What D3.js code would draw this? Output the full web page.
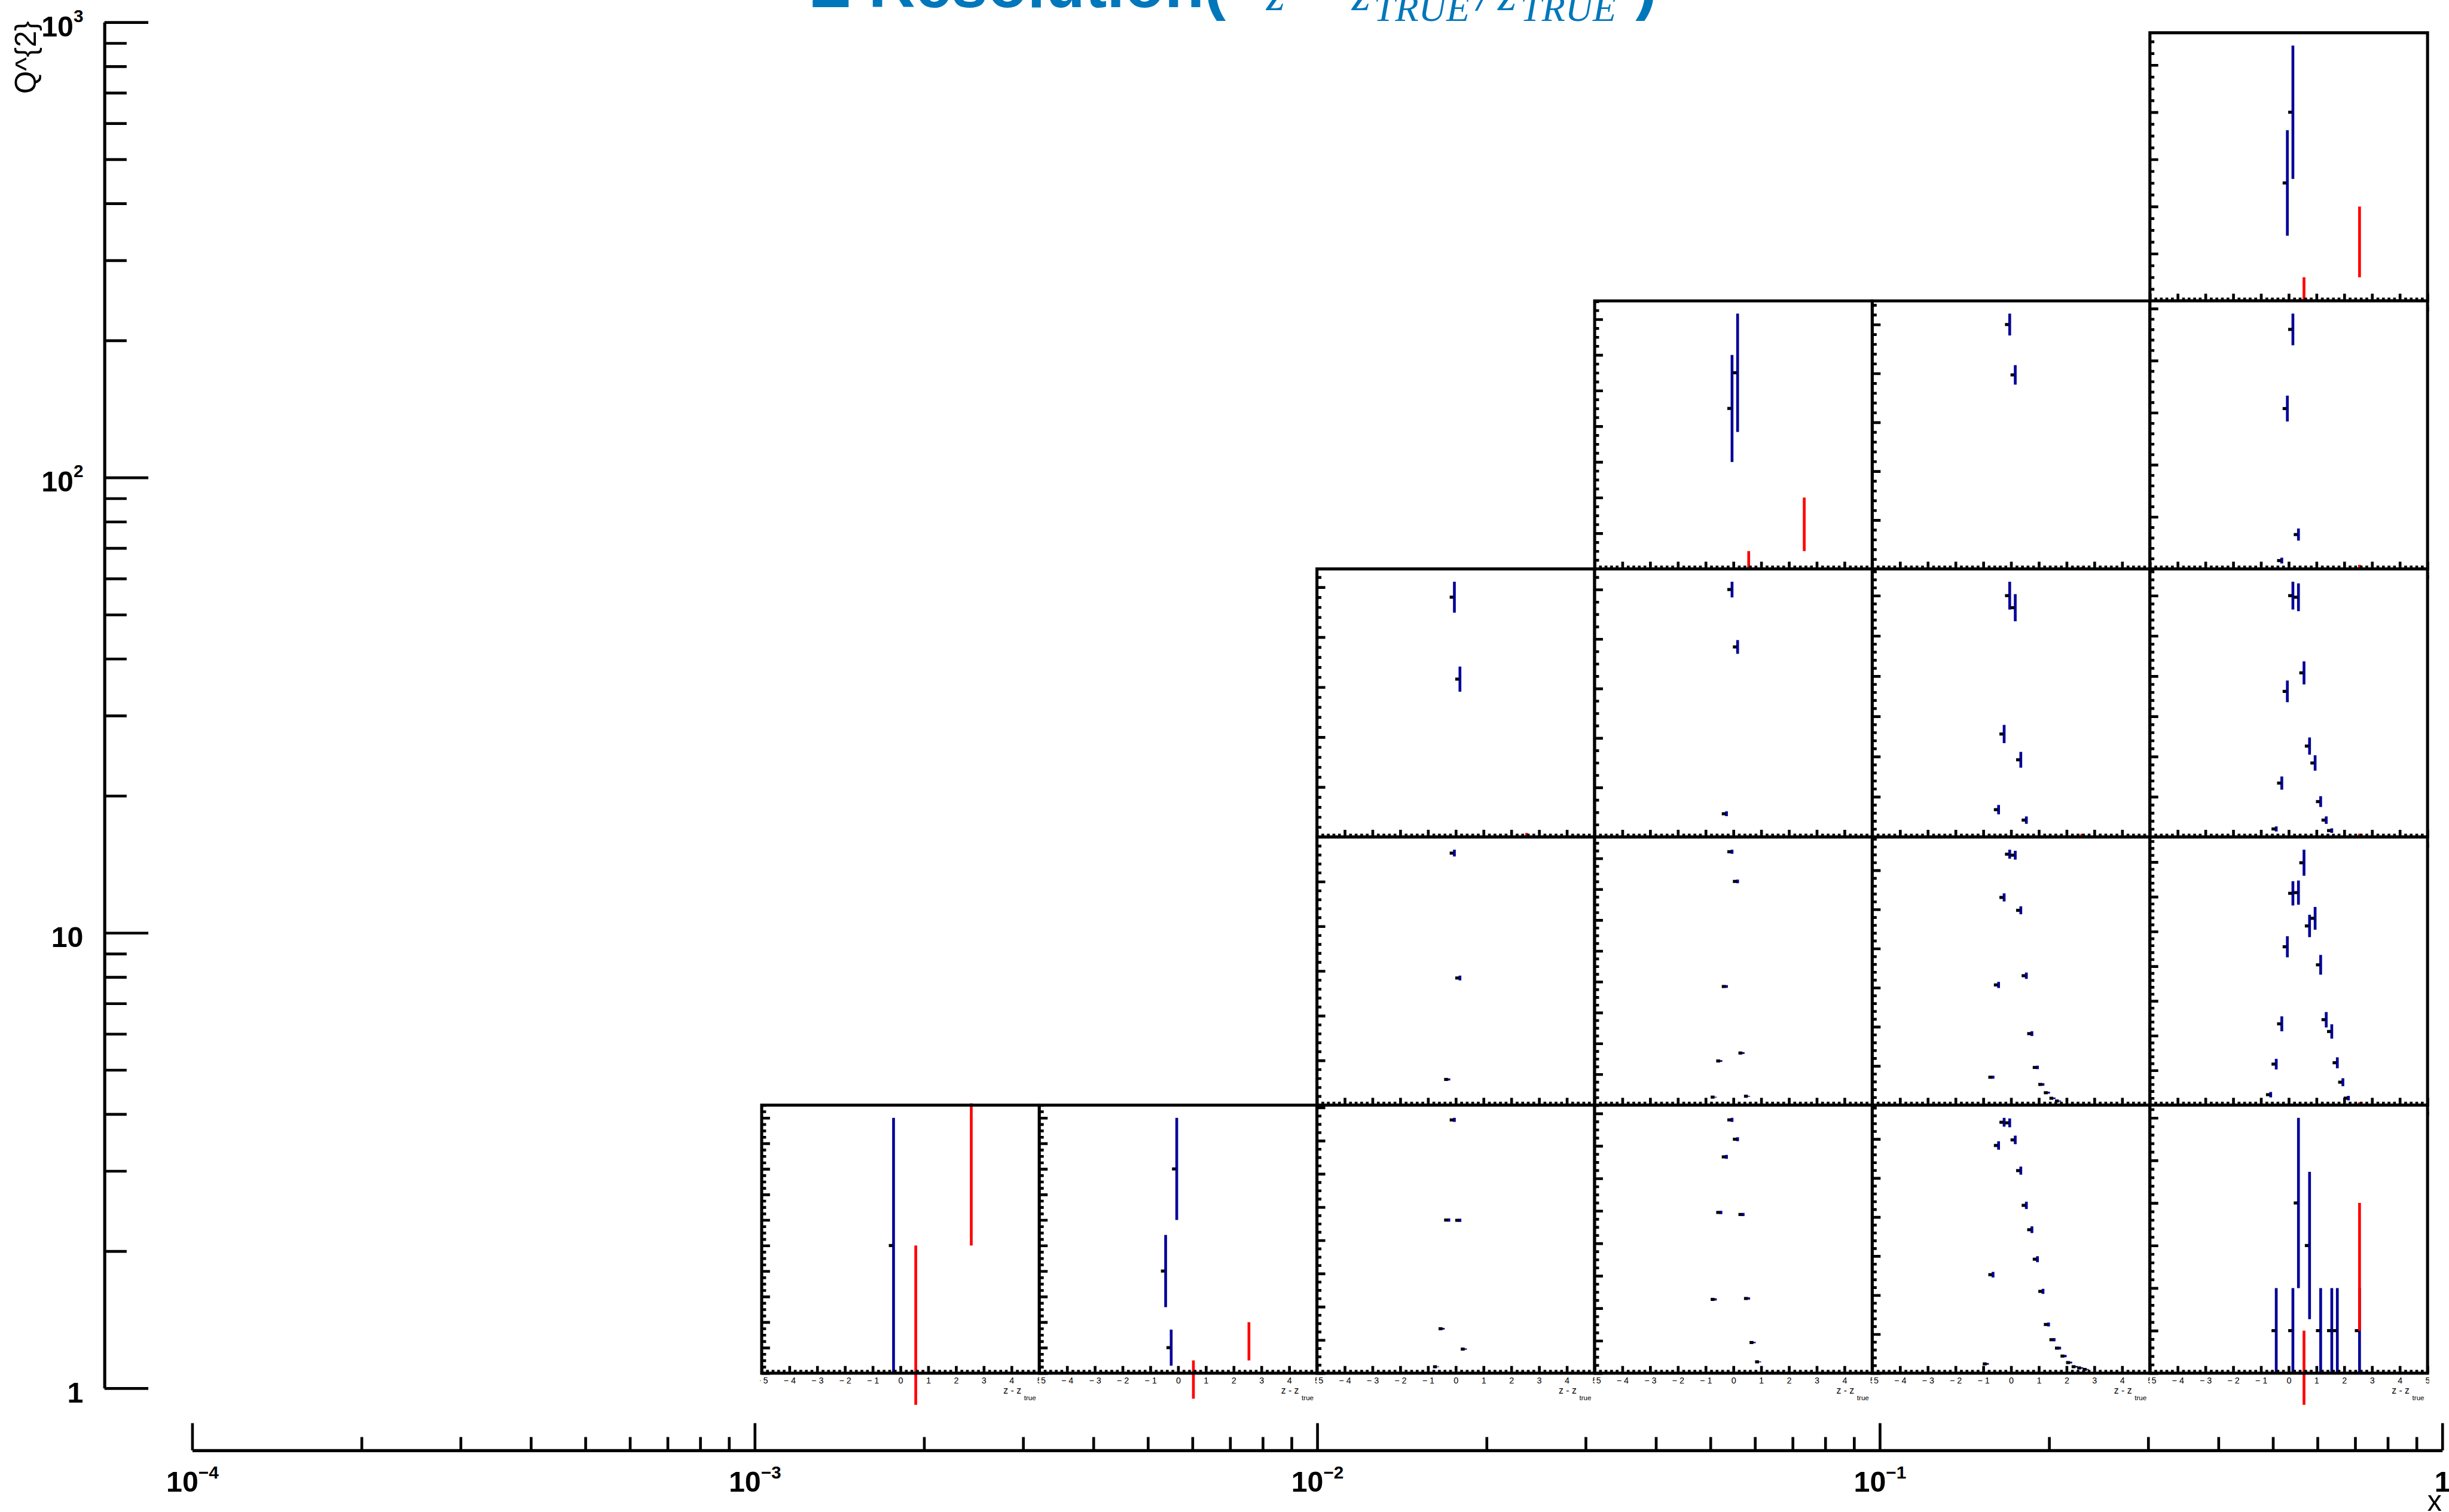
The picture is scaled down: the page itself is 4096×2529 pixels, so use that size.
<!DOCTYPE html>
<html>
<head>
<meta charset="utf-8">
<script src="https://cdn.jsdelivr.net/npm/d3@7"></script>
<style>
  html, body { margin: 0; padding: 0; background: #fff; }
  svg { display: block; }
</style>
</head>
<body>
<script>
// ---------------------------------------------------------------
// Binning of the (x, Q^2) plane: one resolution pad per cell
// ---------------------------------------------------------------
const xBinEdges  = [0.001, 0.0031623, 0.01, 0.031623, 0.1, 0.31623, 1];
const q2BinEdges = [1, 4, 16, 64, 256, 1024];

// Outer axes
const xAxisTicks  = [1e-4, 1e-3, 1e-2, 1e-1, 1];
const xAxisLabels = [["10", "-4"], ["10", "-3"], ["10", "-2"], ["10", "-1"], ["1", ""]];
const yAxisTicks  = [1, 10, 100, 1000];
const yAxisLabels = [["1", ""], ["10", ""], ["10", "2"], ["10", "3"]];

// Pad axis (z - z_true)
const zTicks = [-5, -4, -3, -2, -1, 0, 1, 2, 3, 4, 5];

// Reference histogram (red): bin centres, contents, errors
const redZ   = [0.55, 2.55];
const redVal = [-0.5, 2.5];
const redErr = [1.5, 1.5];

// Blue histograms: bin centres (z - z_true) and entries, per (x bin, Q2 bin)
const z_x0_q0 = [-0.25];
const n_x0_q0 = [1];

const z_x1_q0 = [-0.45, -0.25, -0.05];
const n_x1_q0 = [8, 2, 16];

const z_x2_q0 = [-0.65, -0.45, -0.25, -0.05, 0.15, 0.35];
const n_x2_q0 = [387, 2676, 9220, 15250, 9205, 1451];

const z_x3_q0 = [-0.65, -0.45, -0.25, -0.05, 0.15, 0.35, 0.55, 0.75, 0.95];
const n_x3_q0 = [4545, 9903, 13326, 15604, 14413, 9777, 4602, 1889, 698];

const z_x4_q0 = [-0.85, -0.65, -0.45, -0.25, -0.05, 0.15, 0.35, 0.55, 0.75, 0.95,
                 1.15, 1.35, 1.55, 1.75, 1.95, 2.15, 2.35, 2.55, 2.75];
const n_x4_q0 = [119, 1262, 2917, 3214, 3207, 2988, 2595, 2150, 1838, 1460,
                 1048, 624, 429, 321, 219, 136, 83, 67, 48];

const z_x5_q0 = [-0.45, 0.15, 0.35, 0.75, 1.15, 1.55, 1.75, 2.55];
const n_x5_q0 = [1, 1, 4, 3, 1, 1, 1, 1];

const z_x2_q1 = [-0.25, -0.05, 0.15];
const n_x2_q1 = [574, 5636, 2843];

const z_x3_q1 = [-0.65, -0.45, -0.25, -0.05, 0.15, 0.35, 0.55];
const n_x3_q1 = [517, 2861, 7692, 16430, 14507, 3377, 577];

const z_x4_q1 = [-0.65, -0.45, -0.25, -0.05, 0.15, 0.35, 0.55, 0.75, 0.95, 1.15, 1.35, 1.55, 1.75];
const n_x4_q1 = [356, 1535, 2653, 3205, 3193, 2488, 1653, 913, 481, 264, 158, 87, 52];

const z_x5_q1 = [-0.65, -0.45, -0.25, -0.05, 0.15, 0.35, 0.55, 0.75, 0.95, 1.15, 1.35, 1.55, 1.75, 1.95, 2.15];
const n_x5_q1 = [15, 59, 117, 228, 305, 306, 349, 258, 269, 202, 123, 106, 61, 33, 10];

const z_x2_q2 = [-0.05, 0.15];
const n_x2_q2 = [240, 158];

const z_x3_q2 = [-0.25, -0.05, 0.15];
const n_x3_q2 = [94, 1000, 768];

const z_x4_q2 = [-0.45, -0.25, -0.05, 0.15, 0.35, 0.55];
const n_x4_q2 = [34, 128, 300, 285, 96, 21];

const z_x5_q2 = [-0.45, -0.25, -0.05, 0.15, 0.35, 0.55, 0.75, 0.95, 1.15, 1.35, 1.55];
const n_x5_q2 = [10, 67, 181, 300, 298, 204, 113, 92, 44, 21, 8];

const z_x3_q3 = [-0.05, 0.15];
const n_x3_q3 = [9, 11];

const z_x4_q3 = [-0.05, 0.15];
const n_x4_q3 = [500, 397];

const z_x5_q3 = [-0.25, -0.05, 0.15, 0.35];
const n_x5_q3 = [8, 154, 230, 33];

const z_x5_q4 = [-0.05, 0.15];
const n_x5_q4 = [5, 8];

// Pads, listed top row first so that each lower pad covers the label margin of the one above
const pads = [
  {ix: 5, iq: 4, z: z_x5_q4, n: n_x5_q4},
  {ix: 3, iq: 3, z: z_x3_q3, n: n_x3_q3},
  {ix: 4, iq: 3, z: z_x4_q3, n: n_x4_q3},
  {ix: 5, iq: 3, z: z_x5_q3, n: n_x5_q3},
  {ix: 2, iq: 2, z: z_x2_q2, n: n_x2_q2},
  {ix: 3, iq: 2, z: z_x3_q2, n: n_x3_q2},
  {ix: 4, iq: 2, z: z_x4_q2, n: n_x4_q2},
  {ix: 5, iq: 2, z: z_x5_q2, n: n_x5_q2},
  {ix: 2, iq: 1, z: z_x2_q1, n: n_x2_q1},
  {ix: 3, iq: 1, z: z_x3_q1, n: n_x3_q1},
  {ix: 4, iq: 1, z: z_x4_q1, n: n_x4_q1},
  {ix: 5, iq: 1, z: z_x5_q1, n: n_x5_q1},
  {ix: 0, iq: 0, z: z_x0_q0, n: n_x0_q0},
  {ix: 1, iq: 0, z: z_x1_q0, n: n_x1_q0},
  {ix: 2, iq: 0, z: z_x2_q0, n: n_x2_q0},
  {ix: 3, iq: 0, z: z_x3_q0, n: n_x3_q0},
  {ix: 4, iq: 0, z: z_x4_q0, n: n_x4_q0},
  {ix: 5, iq: 0, z: z_x5_q0, n: n_x5_q0}
];

// ---------------------------------------------------------------
// Canvas
// ---------------------------------------------------------------
const W = 4410, H = 2723;
const SANS = "'Liberation Sans', Arial, Helvetica, sans-serif";
const SERIF = "'Liberation Serif', 'Times New Roman', serif";
const BLUE = "#000099", RED = "#ff0000";

const svg = d3.select("body").append("svg")
  .attr("width", 4096).attr("height", 2529)
  .attr("viewBox", `0 0 ${W} ${H}`);
svg.append("rect").attr("width", W).attr("height", H).attr("fill", "#fff");
const defs = svg.append("defs");

// Scales of the outer frame and of the pad grid
const xMain = d3.scaleLog().domain([1e-4, 1]).range([346, 4398]);
const yMain = d3.scaleLog().domain([1, 1000]).range([2500, 40]);
const xPad  = d3.scaleLog().domain([1e-3, 1]).range([1371.5, 4371.5]);
const yPad  = d3.scaleLog().domain([1, 1024]).range([2473, 59]);

// Axis division like the classic 510 optimisation
function majorStep(ymax) {
  const aw = ymax / 10;
  const e = Math.floor(Math.log10(aw));
  const ten = Math.pow(10, e);
  const s = aw / ten;
  const m = s <= 1.0001 ? 1 : s <= 2.2 ? 2 : s <= 5 ? 5 : 10;
  return m * ten;
}
function leadDigit(step) {
  return Math.round(step / Math.pow(10, Math.floor(Math.log10(step) + 1e-9)));
}

const zFmt = d => d < 0 ? "\u2212 " + (-d) : String(d);
const PAD_MARGIN = 57;
const LW = 5.5;

pads.forEach((p, i) => {
  const x0 = xPad(xBinEdges[p.ix]), x1 = xPad(xBinEdges[p.ix + 1]);
  const yT = yPad(q2BinEdges[p.iq + 1]), yB = yPad(q2BinEdges[p.iq]);

  const cid = "padclip" + i;
  defs.append("clipPath").attr("id", cid).append("rect")
    .attr("x", x0 - 3).attr("y", yT - 3)
    .attr("width", x1 - x0 + 6).attr("height", yB - yT + PAD_MARGIN + 3);

  const g = svg.append("g").attr("clip-path", `url(#${cid})`);
  g.append("rect").attr("x", x0).attr("y", yT)
    .attr("width", x1 - x0).attr("height", yB - yT + PAD_MARGIN)
    .attr("fill", "#fff");

  const zs = d3.scaleLinear().domain([-5, 5]).range([x0, x1]);
  const ymax = 1.05 * d3.max(p.n, v => v + Math.sqrt(v));
  const ys = d3.scaleLinear().domain([0, ymax]).range([yB, yT]);

  const pts = p.z.map((z, k) => ({z: z, n: p.n[k], e: Math.sqrt(p.n[k])}));

  // blue error bars
  g.append("g").selectAll("line").data(pts).join("line")
    .attr("x1", d => zs(d.z)).attr("x2", d => zs(d.z))
    .attr("y1", d => ys(d.n - d.e)).attr("y2", d => ys(d.n + d.e))
    .attr("stroke", BLUE).attr("stroke-width", 5);

  // bin markers
  g.append("g").selectAll("rect").data(pts).join("rect")
    .attr("x", d => zs(d.z - 0.17)).attr("width", d => zs(d.z - 0.03) - zs(d.z - 0.17))
    .attr("y", d => ys(d.n) - 2.75).attr("height", 5.5)
    .attr("fill", "#000");

  // red reference histogram
  const reds = redZ.map((z, k) => ({z: z, v: redVal[k], e: redErr[k]}));
  g.append("g").selectAll("line").data(reds).join("line")
    .attr("x1", d => zs(d.z)).attr("x2", d => zs(d.z))
    .attr("y1", d => ys(d.v - d.e)).attr("y2", d => ys(d.v + d.e))
    .attr("stroke", RED).attr("stroke-width", 5);

  // frame
  g.append("rect").attr("x", x0).attr("y", yT)
    .attr("width", x1 - x0).attr("height", yB - yT)
    .attr("fill", "none").attr("stroke", "#000").attr("stroke-width", LW);

  // x axis of the pad
  const zMinor = d3.range(-50, 51).map(k => k / 10).filter(v => Math.abs(v * 5 - Math.round(v * 5)) < 1e-6 && Math.abs(v - Math.round(v)) > 1e-6);
  const axZ = g.append("g").attr("transform", `translate(0,${yB})`)
    .call(d3.axisBottom(zs).tickValues(zTicks).tickFormat(zFmt)
      .tickSizeInner(-13).tickSizeOuter(0).tickPadding(8));
  const axZm = g.append("g").attr("transform", `translate(0,${yB})`)
    .call(d3.axisBottom(zs).tickValues(zMinor).tickFormat("")
      .tickSizeInner(-6).tickSizeOuter(0));
  [axZ, axZm].forEach(a => {
    a.select(".domain").remove();
    a.selectAll("line").attr("stroke", "#000").attr("stroke-width", 5);
  });
  axZ.selectAll("text").attr("font-family", SANS).attr("font-size", 15.5).attr("fill", "#000");

  const tt = g.append("text").attr("x", x1 - 6).attr("y", yB + 37)
    .attr("text-anchor", "end").attr("font-family", SANS).attr("font-size", 17);
  tt.append("tspan").text("z - z");
  tt.append("tspan").attr("dx", 5).attr("dy", 12).attr("font-size", 12.5).text("true");

  // y axis of the pad
  const step = majorStep(ymax);
  const nsub = leadDigit(step) === 2 ? 4 : 5;
  const yMajor = d3.range(0, Math.floor(ymax / step + 1e-9) + 1).map(k => k * step);
  const yMinorT = d3.range(0, Math.floor(ymax / (step / nsub) + 1e-9) + 1)
    .filter(k => k % nsub !== 0).map(k => k * step / nsub);
  const axY = g.append("g").attr("transform", `translate(${x0},0)`)
    .call(d3.axisLeft(ys).tickValues(yMajor).tickFormat("").tickSizeInner(-15).tickSizeOuter(0));
  const axYm = g.append("g").attr("transform", `translate(${x0},0)`)
    .call(d3.axisLeft(ys).tickValues(yMinorT).tickFormat("").tickSizeInner(-8).tickSizeOuter(0));
  [axY, axYm].forEach(a => {
    a.select(".domain").remove();
    a.selectAll("line").attr("stroke", "#000").attr("stroke-width", 5);
  });
});

// ---------------------------------------------------------------
// Outer axes
// ---------------------------------------------------------------
function supLabels(axisG, labels, supSize, supRise) {
  axisG.selectAll(".tick text").each(function (d, k) {
    const t = d3.select(this);
    t.text(null);
    const lab = labels[k];
    t.append("tspan").text(lab[0]);
    if (lab[1]) t.append("tspan").attr("dy", -supRise).attr("font-size", supSize).text(lab[1].replace("-", "\u2212"));
  });
}

// vertical axis
const yMinorVals = [];
[1, 10, 100].forEach(dec => [2, 3, 4, 5, 6, 7, 8, 9].forEach(k => yMinorVals.push(k * dec)));
const gy = svg.append("g").attr("transform", "translate(188,0)")
  .call(d3.axisLeft(yMain).tickValues(yAxisTicks).tickFormat("")
    .tickSizeInner(-79).tickSizeOuter(0).tickPadding(38));
const gym = svg.append("g").attr("transform", "translate(188,0)")
  .call(d3.axisLeft(yMain).tickValues(yMinorVals).tickFormat("")
    .tickSizeInner(-40).tickSizeOuter(0));
gym.select(".domain").remove();
[gy, gym].forEach(a => {
  a.selectAll("line").attr("stroke", "#000").attr("stroke-width", 5);
});
gy.select(".domain").attr("stroke", "#000").attr("stroke-width", 5.5);
gy.selectAll(".tick text")
  .attr("font-family", SANS).attr("font-weight", "bold").attr("font-size", 52)
  .attr("fill", "#000").attr("dy", "0.48em");
supLabels(gy, yAxisLabels, 32, 26);

svg.append("text")
  .attr("transform", "translate(64,38) rotate(-90)")
  .attr("text-anchor", "end").attr("font-family", SANS).attr("font-size", 53)
  .text("Q^{2}");

// horizontal axis
const xMinorVals = [];
[1e-4, 1e-3, 1e-2, 1e-1].forEach(dec => [2, 3, 4, 5, 6, 7, 8, 9].forEach(k => xMinorVals.push(k * dec)));
const gx = svg.append("g").attr("transform", "translate(0,2612)")
  .call(d3.axisBottom(xMain).tickValues(xAxisTicks).tickFormat("")
    .tickSizeInner(-49).tickSizeOuter(0).tickPadding(38));
const gxm = svg.append("g").attr("transform", "translate(0,2612)")
  .call(d3.axisBottom(xMain).tickValues(xMinorVals).tickFormat("")
    .tickSizeInner(-24).tickSizeOuter(0));
gxm.select(".domain").remove();
[gx, gxm].forEach(a => {
  a.selectAll("line").attr("stroke", "#000").attr("stroke-width", 5);
});
gx.select(".domain").attr("stroke", "#000").attr("stroke-width", 5.5);
gx.selectAll(".tick text")
  .attr("font-family", SANS).attr("font-weight", "bold").attr("font-size", 52)
  .attr("fill", "#000").attr("dy", "0.71em");
supLabels(gx, xAxisLabels, 32, 24);

svg.append("text")
  .attr("x", 4397).attr("y", 2721).attr("text-anchor", "end")
  .attr("font-family", SANS).attr("font-size", 52).text("x");

// ---------------------------------------------------------------
// Title
// ---------------------------------------------------------------
const TITLE = "#0077bb";
const title = svg.append("text").attr("y", 13).attr("fill", TITLE);
title.append("tspan").attr("x", 1460).attr("font-family", SANS).attr("font-weight", "bold")
  .attr("font-size", 117).text("Z Resolution(");
title.append("tspan").attr("x", 2280).attr("y", 18).attr("font-family", SERIF).attr("font-style", "italic")
  .attr("font-size", 87).text("z");
title.append("tspan").attr("x", 2340).attr("y", 18).attr("font-family", SERIF)
  .attr("font-size", 87).text("\u2212");
title.append("tspan").attr("x", 2434).attr("y", 18).attr("font-family", SERIF).attr("font-style", "italic")
  .attr("font-size", 87).text("z");
title.append("tspan").attr("x", 2474).attr("y", 38).attr("font-family", SERIF).attr("font-style", "italic")
  .attr("font-size", 69).text("TRUE");
title.append("tspan").attr("x", 2660).attr("y", 18).attr("font-family", SERIF).attr("font-style", "italic")
  .attr("font-size", 87).text("/");
title.append("tspan").attr("x", 2697).attr("y", 18).attr("font-family", SERIF).attr("font-style", "italic")
  .attr("font-size", 87).text("z");
title.append("tspan").attr("x", 2738).attr("y", 38).attr("font-family", SERIF).attr("font-style", "italic")
  .attr("font-size", 69).text("TRUE");
title.append("tspan").attr("x", 2945).attr("y", 13).attr("font-family", SANS).attr("font-weight", "bold")
  .attr("font-size", 117).text(")");
</script>
</body>
</html>
